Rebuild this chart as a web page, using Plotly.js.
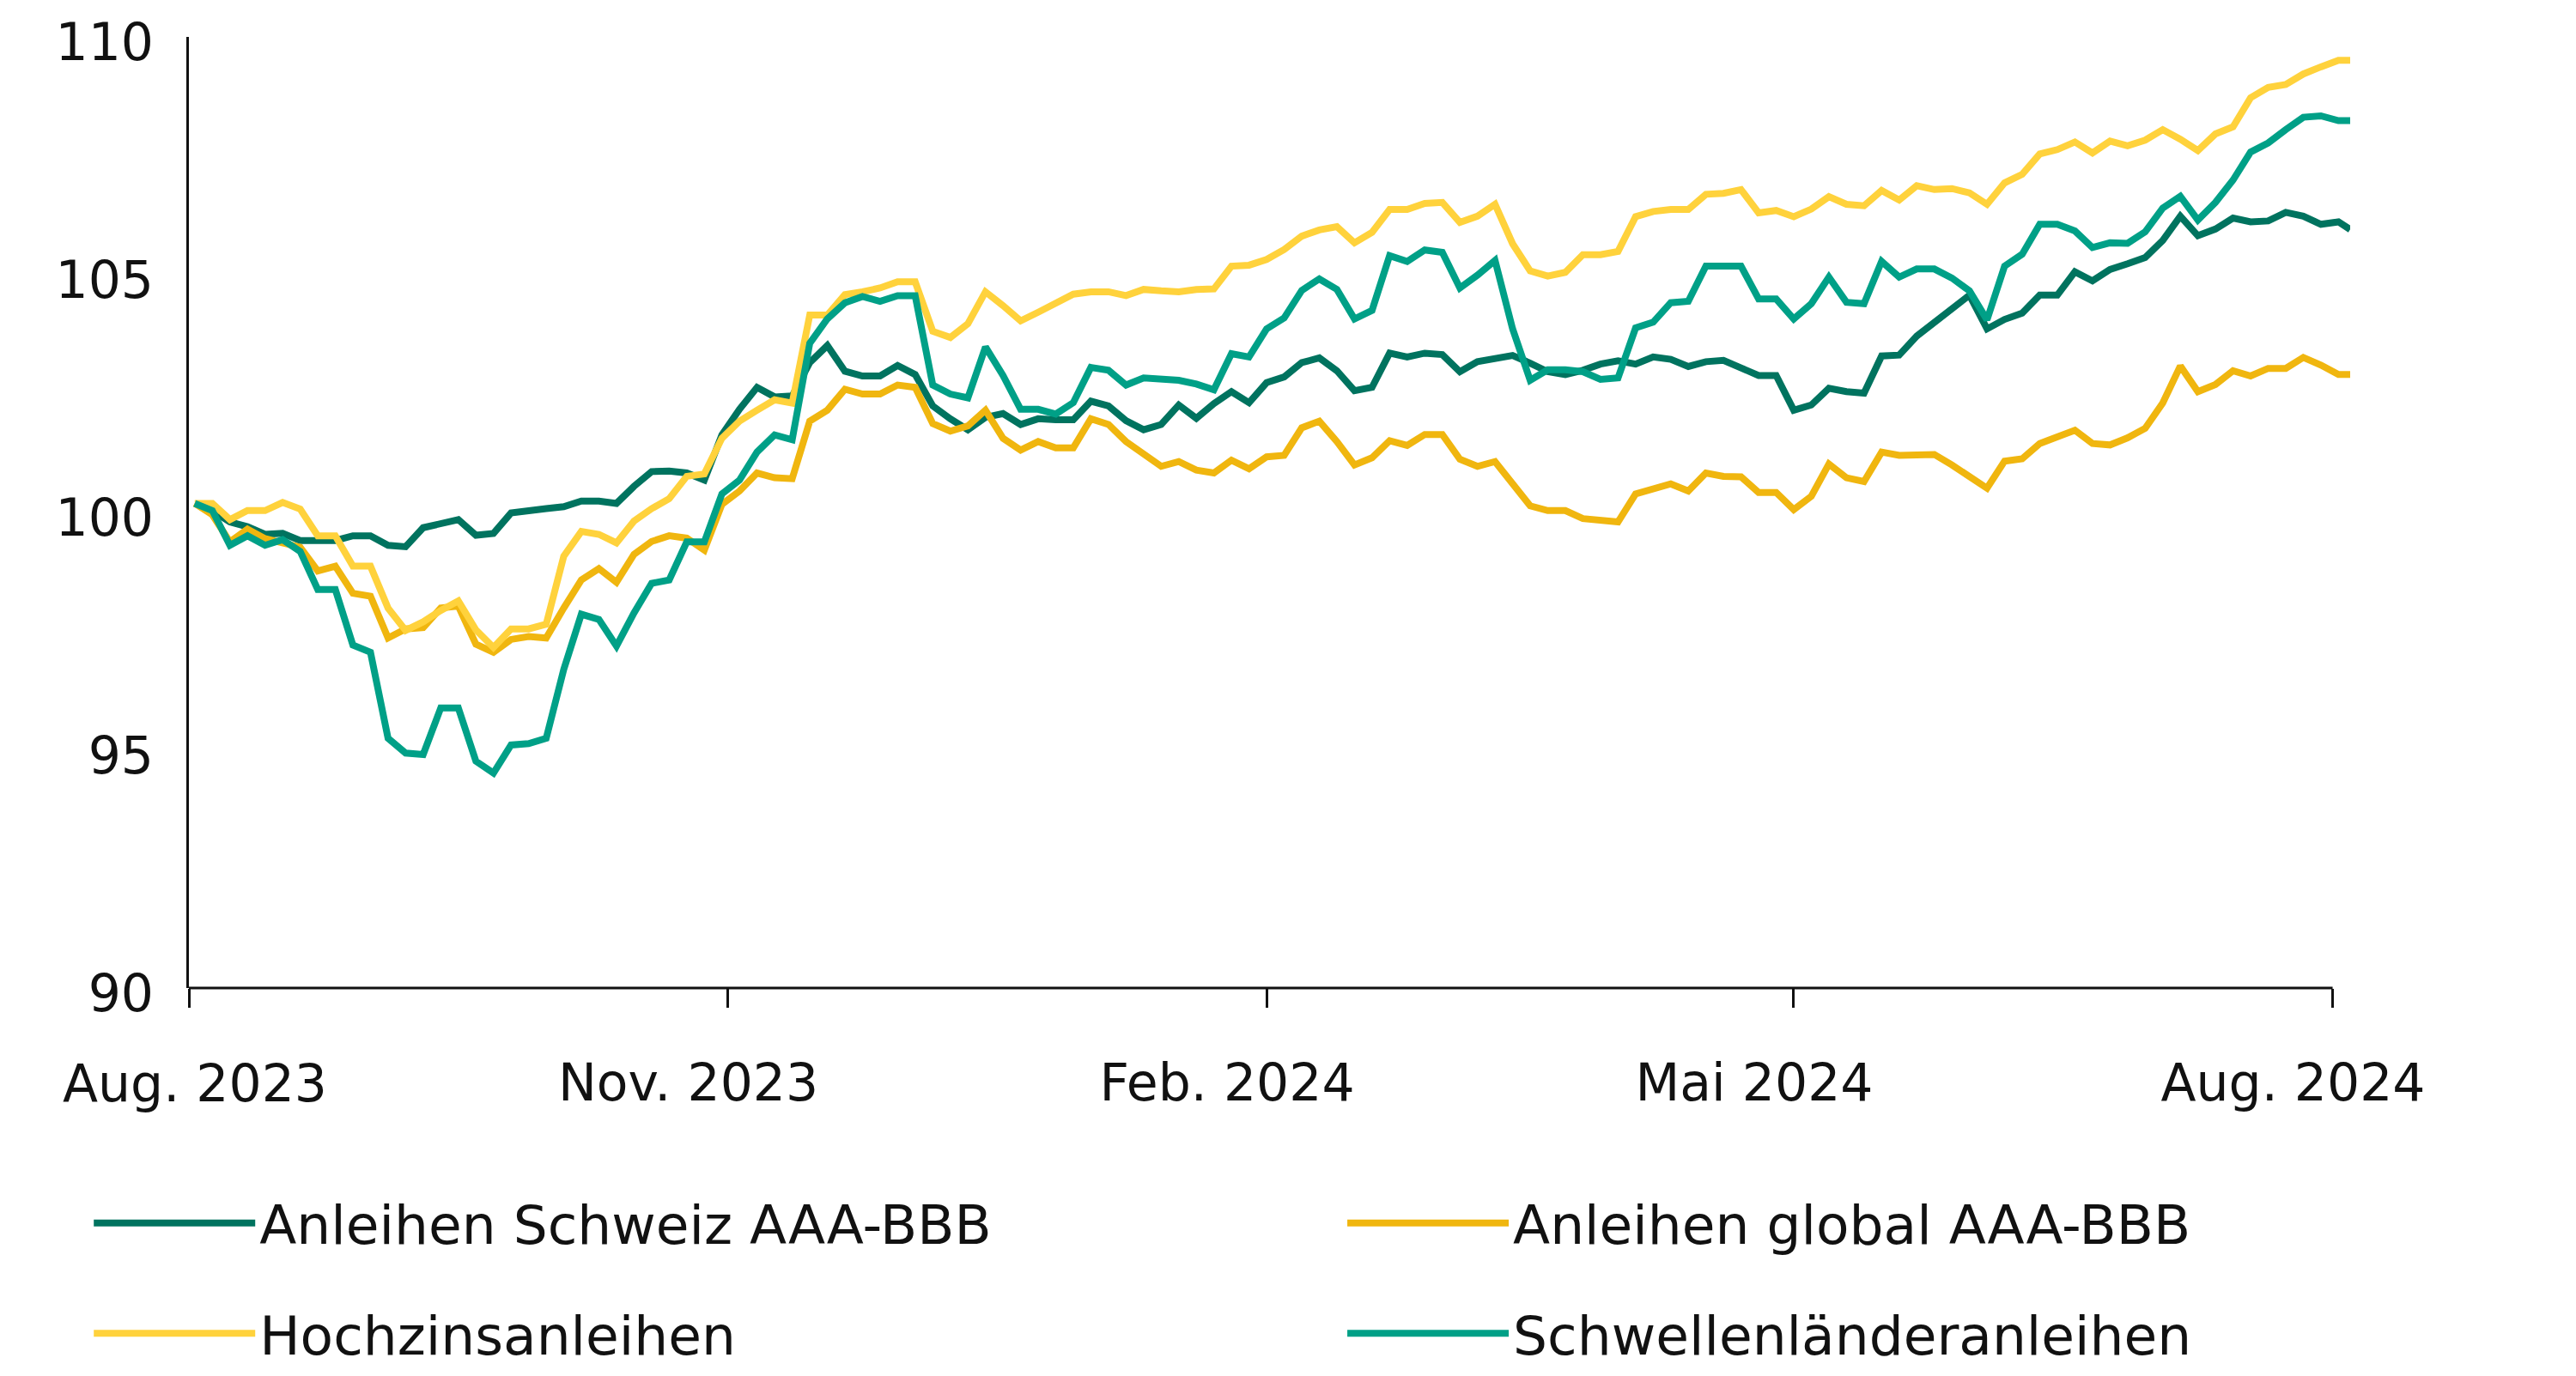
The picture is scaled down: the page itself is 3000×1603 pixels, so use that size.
<!DOCTYPE html>
<html>
<head>
<meta charset="utf-8">
<script src="https://cdn.plot.ly/plotly-3.0.1.min.js"></script>
<style>
  html, body { margin: 0; padding: 0; background: #ffffff; }
  #chart { width: 3000px; height: 1603px; }
</style>
</head>
<body>
<div id="chart"></div>
<script>
// Dates (every 3 days, Aug 2023 - Aug 2024)
const dates = [
  '2023-08-02','2023-08-05','2023-08-08','2023-08-11','2023-08-14','2023-08-17','2023-08-20','2023-08-23','2023-08-26','2023-08-29',
  '2023-09-01','2023-09-04','2023-09-07','2023-09-10','2023-09-13','2023-09-16','2023-09-19','2023-09-22','2023-09-25','2023-09-28','2023-10-01',
  '2023-10-04','2023-10-07','2023-10-10','2023-10-13','2023-10-16','2023-10-19','2023-10-22','2023-10-25','2023-10-28','2023-10-31',
  '2023-11-03','2023-11-06','2023-11-09','2023-11-12','2023-11-15','2023-11-18','2023-11-21','2023-11-24','2023-11-27','2023-11-30',
  '2023-12-03','2023-12-06','2023-12-09','2023-12-12','2023-12-15','2023-12-18','2023-12-21','2023-12-24','2023-12-27','2023-12-30',
  '2024-01-02','2024-01-05','2024-01-08','2024-01-11','2024-01-14','2024-01-17','2024-01-20','2024-01-23','2024-01-26','2024-01-29','2024-02-01',
  '2024-02-04','2024-02-07','2024-02-10','2024-02-13','2024-02-16','2024-02-19','2024-02-22','2024-02-25','2024-02-28','2024-03-02',
  '2024-03-05','2024-03-08','2024-03-11','2024-03-14','2024-03-17','2024-03-20','2024-03-23','2024-03-26','2024-03-29','2024-04-01',
  '2024-04-04','2024-04-07','2024-04-10','2024-04-13','2024-04-16','2024-04-19','2024-04-22','2024-04-25','2024-04-28','2024-05-01',
  '2024-05-04','2024-05-07','2024-05-10','2024-05-13','2024-05-16','2024-05-19','2024-05-22','2024-05-25','2024-05-28','2024-05-31','2024-06-03',
  '2024-06-06','2024-06-09','2024-06-12','2024-06-15','2024-06-18','2024-06-21','2024-06-24','2024-06-27','2024-06-30',
  '2024-07-03','2024-07-06','2024-07-09','2024-07-12','2024-07-15','2024-07-18','2024-07-21','2024-07-24','2024-07-27','2024-07-30',
  '2024-08-02','2024-08-04'
];

const anleihenSchweiz = [
  100.19,100.04,99.80,99.70,99.54,99.56,99.41,99.40,99.41,99.51,99.51,99.31,99.28,99.68,99.78,99.85,99.52,99.56,99.99,100.02,100.08,
  100.12,100.24,100.24,100.19,100.55,100.86,100.87,100.83,100.68,101.63,102.17,102.63,102.43,102.45,103.15,103.51,102.97,102.87,102.87,103.09,
  102.90,102.24,101.97,101.74,102.00,102.08,101.85,101.97,101.95,101.95,102.34,102.24,101.93,101.74,101.85,102.26,101.98,102.29,102.54,102.31,102.73,
  102.85,103.15,103.25,102.98,102.56,102.63,103.35,103.27,103.35,103.32,102.96,103.17,103.22,103.30,103.14,102.96,102.90,102.99,103.12,103.19,
  103.12,103.27,103.22,103.07,103.17,103.20,103.04,102.88,102.88,102.15,102.26,102.61,102.54,102.51,103.29,103.31,103.71,104.00,104.27,104.57,103.86,
  104.06,104.19,104.57,104.57,105.06,104.87,105.11,105.23,105.36,105.72,106.23,105.82,105.96,106.19,106.11,106.13,106.31,106.23,106.06,106.11,105.95
];

const anleihenGlobal = [
  100.19,99.95,99.38,99.65,99.45,99.36,99.27,98.77,98.87,98.30,98.24,97.36,97.55,97.58,97.99,98.03,97.23,97.06,97.33,97.39,97.36,
  97.99,98.58,98.82,98.53,99.12,99.39,99.51,99.46,99.21,100.17,100.45,100.83,100.73,100.71,101.92,102.15,102.59,102.49,102.49,102.68,
  102.63,101.87,101.71,101.82,102.15,101.56,101.31,101.49,101.36,101.36,101.97,101.85,101.49,101.22,100.97,101.07,100.89,100.83,101.10,100.92,101.17,
  101.20,101.78,101.92,101.49,101.00,101.15,101.51,101.41,101.64,101.64,101.12,100.97,101.07,100.61,100.14,100.04,100.04,99.87,99.85,99.80,
  100.39,100.48,100.60,100.45,100.83,100.76,100.75,100.42,100.42,100.06,100.34,101.02,100.73,100.65,101.27,101.20,101.22,101.22,101.00,100.75,100.51,
  101.08,101.13,101.45,101.59,101.73,101.45,101.42,101.57,101.77,102.30,103.08,102.54,102.69,102.98,102.87,103.03,103.03,103.26,103.10,102.90,102.90
];

const hochzinsanleihen = [
  100.19,100.19,99.85,100.04,100.04,100.21,100.07,99.51,99.51,98.87,98.87,97.99,97.52,97.70,97.94,98.14,97.53,97.16,97.55,97.55,97.65,
  99.08,99.60,99.54,99.36,99.82,100.08,100.29,100.76,100.81,101.56,101.92,102.15,102.37,102.30,104.15,104.15,104.58,104.64,104.72,104.85,
  104.85,103.81,103.68,103.97,104.64,104.35,104.03,104.21,104.42,104.59,104.64,104.64,104.56,104.69,104.66,104.64,104.69,104.70,105.18,105.20,105.32,
  105.53,105.81,105.94,106.01,105.67,105.89,106.37,106.37,106.50,106.52,106.10,106.23,106.48,105.65,105.08,104.97,105.05,105.42,105.42,105.49,
  106.22,106.33,106.37,106.37,106.69,106.71,106.79,106.30,106.35,106.22,106.38,106.64,106.48,106.45,106.77,106.57,106.87,106.79,106.81,106.72,106.48,
  106.93,107.11,107.54,107.63,107.79,107.56,107.81,107.71,107.83,108.05,107.85,107.61,107.96,108.11,108.72,108.94,109.00,109.22,109.37,109.51,109.51
];

const schwellenlaender = [
  100.19,100.04,99.31,99.51,99.31,99.43,99.18,98.38,98.38,97.21,97.06,95.25,94.94,94.91,95.89,95.89,94.77,94.52,95.11,95.14,95.25,
  96.70,97.86,97.75,97.19,97.89,98.51,98.58,99.38,99.38,100.39,100.68,101.27,101.63,101.53,103.56,104.07,104.41,104.54,104.44,104.56,
  104.56,102.68,102.49,102.41,103.48,102.88,102.17,102.17,102.07,102.31,103.05,102.99,102.68,102.83,102.81,102.78,102.70,102.58,103.34,103.27,103.86,
  104.09,104.67,104.91,104.69,104.07,104.25,105.40,105.28,105.52,105.47,104.72,104.99,105.30,103.86,102.78,103.00,103.00,102.96,102.80,102.83,
  103.88,104.00,104.41,104.44,105.18,105.18,105.18,104.49,104.49,104.07,104.39,104.95,104.42,104.39,105.28,104.95,105.12,105.12,104.93,104.66,104.05,
  105.18,105.43,106.06,106.06,105.92,105.57,105.67,105.66,105.90,106.40,106.65,106.15,106.52,106.99,107.58,107.77,108.05,108.31,108.34,108.24,108.24
];

const seriesNames = ['Anleihen Schweiz AAA-BBB', 'Anleihen global AAA-BBB', 'Hochzinsanleihen', 'Schwellenländeranleihen'];
const seriesColors = ['#00735F', '#F0B60F', '#FFD23C', '#00A087'];
const seriesLegend = ['legend', 'legend2', 'legend3', 'legend4'];
const seriesValues = [anleihenSchweiz, anleihenGlobal, hochzinsanleihen, schwellenlaender];

const xTickVals = ['2023-08-01', '2023-11-01', '2024-02-01', '2024-05-01', '2024-08-01'];
const xTickText = ['Aug. 2023', 'Nov. 2023', 'Feb. 2024', 'Mai 2024', 'Aug. 2024'];
const yTickVals = [90, 95, 100, 105, 110];

const FONT = '"DejaVu Sans", "Open Sans", sans-serif';
const INK = '#111111';

const traces = seriesValues.map((vals, i) => ({
  type: 'scatter',
  mode: 'lines',
  x: dates,
  y: vals,
  name: seriesNames[i],
  legend: seriesLegend[i],
  line: { color: seriesColors[i], width: 8, shape: 'linear' },
  hoverinfo: 'skip'
}));

// empty helper trace so that the overlaying axis carrying the first tick label is drawn
traces.push({
  type: 'scatter', mode: 'lines', x: [], y: [],
  xaxis: 'x2', yaxis: 'y', showlegend: false, hoverinfo: 'skip'
});

function legendAt(x, y) {
  return {
    orientation: 'h',
    xanchor: 'left',
    yanchor: 'middle',
    x: x,
    y: y,
    itemwidth: 188,
    font: { family: FONT, size: 63, color: INK },
    bgcolor: 'rgba(0,0,0,0)'
  };
}

const xRange = ['2023-08-01', '2024-08-04'];

const layout = {
  width: 3000,
  height: 1603,
  paper_bgcolor: '#ffffff',
  plot_bgcolor: '#ffffff',
  margin: { l: 220, r: 263, t: 43, b: 452, autoexpand: false },
  font: { family: FONT, size: 60, color: INK },
  showlegend: true,
  legend: legendAt(-0.046, -0.247),
  legend2: legendAt(0.534, -0.247),
  legend3: legendAt(-0.046, -0.363),
  legend4: legendAt(0.534, -0.363),
  xaxis: {
    type: 'date',
    range: xRange,
    tickmode: 'array',
    tickvals: xTickVals,
    ticktext: [''].concat(xTickText.slice(1)),
    ticks: 'outside',
    ticklen: 22,
    tickwidth: 3,
    tickcolor: INK,
    ticklabelstandoff: 36,
    ticklabelshift: -46,
    showline: false,
    showgrid: false,
    zeroline: false,
    tickfont: { family: FONT, size: 60, color: INK }
  },
  xaxis2: {
    type: 'date',
    overlaying: 'x',
    anchor: 'y',
    side: 'bottom',
    range: xRange,
    tickmode: 'array',
    tickvals: xTickVals.slice(0, 1),
    ticktext: xTickText.slice(0, 1),
    ticks: '',
    ticklabelstandoff: 71,
    ticklabelshift: 7,
    showline: false,
    showgrid: false,
    zeroline: false,
    tickfont: { family: FONT, size: 60, color: INK }
  },
  yaxis: {
    range: [90, 110],
    tickmode: 'array',
    tickvals: yTickVals,
    ticks: '',
    ticklabelstandoff: 26,
    ticklabelshift: 6,
    showline: true,
    linewidth: 3,
    linecolor: INK,
    showgrid: false,
    zeroline: false,
    tickfont: { family: FONT, size: 60, color: INK }
  },
  shapes: [{
    type: 'line', xref: 'x', yref: 'paper',
    x0: xTickVals[0], x1: xTickVals[xTickVals.length - 1], y0: 0, y1: 0,
    line: { color: INK, width: 3 }
  }]
};

Plotly.newPlot('chart', traces, layout, { displayModeBar: false, staticPlot: true });
</script>
</body>
</html>
